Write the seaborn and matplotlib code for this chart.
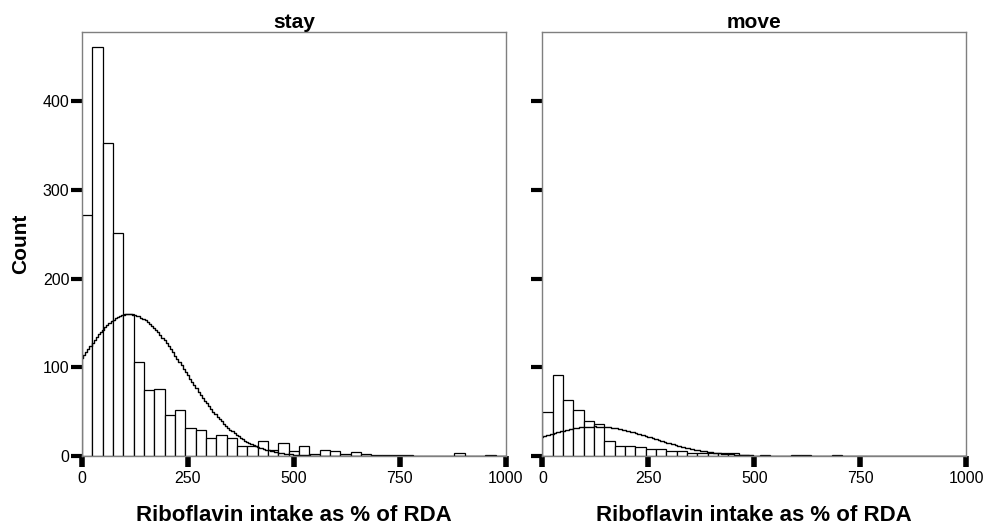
import numpy as np
import pandas as pd
import matplotlib
matplotlib.use("Agg")
import matplotlib.pyplot as plt
import seaborn as sns

# ---- data ----
panels = ["stay", "move"]
bin_width = 1000 / 41
stay_counts = [272, 461, 353, 252, 160, 106, 75, 76, 46, 52, 32, 30, 20, 24, 20,
               12, 12, 17, 7, 15, 6, 12, 2, 7, 6, 2, 5, 2, 1, 1, 1, 1, 0, 0, 0,
               0, 4, 0, 0, 1, 0]
move_counts = [50, 91, 63, 52, 40, 36, 17, 12, 11, 10, 8, 8, 6, 6, 4, 4, 4, 4, 4,
               1, 0, 1, 0, 0, 1, 1, 0, 0, 1, 0, 0, 0, 0, 0, 0, 0, 0, 0, 0, 0, 0]
# normal-curve parameters (mean, sd, N) as drawn by the source
stay_curve = [112, 130, 2138]
move_curve = [125, 136, 468]
x_ticks = [0, 250, 500, 750, 1000]
y_ticks = [0, 100, 200, 300, 400]
x_label = "Riboflavin intake as % of RDA"
y_label = "Count"

sns.set_style("white")
plt.rcParams["font.family"] = ["Liberation Sans", "DejaVu Sans"]
plt.rcParams["text.color"] = "black"
plt.rcParams["axes.labelcolor"] = "black"
plt.rcParams["xtick.color"] = "black"
plt.rcParams["ytick.color"] = "black"

fig = plt.figure(figsize=(9.88, 5.28), dpi=100)
ax_l = fig.add_axes([0.083, 0.136, 0.429, 0.803])
ax_r = fig.add_axes([0.549, 0.136, 0.429, 0.803], sharey=ax_l)

edges = [i * bin_width for i in range(len(stay_counts) + 1)]
centers = [(edges[i] + edges[i + 1]) / 2 for i in range(len(stay_counts))]
grid = np.arange(0, 1000.1, 5.0)

for ax, name, counts, curve in [(ax_l, "stay", stay_counts, stay_curve),
                                (ax_r, "move", move_counts, move_curve)]:
    df = pd.DataFrame({"x": centers, "count": counts})
    sns.histplot(data=df, x="x", weights="count", bins=edges, ax=ax,
                 color="white", edgecolor="black", linewidth=0.9, alpha=1)
    mu, sd, n = curve
    dens = n * bin_width * np.exp(-0.5 * ((grid - mu) / sd) ** 2) / (sd * np.sqrt(2 * np.pi))
    sns.lineplot(x=grid, y=dens, ax=ax, color="black", linewidth=1.0,
                 drawstyle="steps-mid", estimator=None)
    ax.set_xlim(0, 1000)
    ax.set_ylim(0, 478)
    ax.set_xticks(x_ticks)
    ax.set_yticks(y_ticks)
    ax.set_title(name, fontsize=15, fontweight="bold", pad=3, color="black")
    ax.set_xlabel(x_label, fontsize=16, fontweight="bold", labelpad=13)
    ax.set_ylabel("")
    for s in ax.spines.values():
        s.set_color("#7f7f7f")
        s.set_linewidth(1.0)
    ax.tick_params(axis="x", direction="out", length=8, width=4, color="black",
                   labelcolor="black", labelsize=11.5, pad=3, bottom=True)
    ax.tick_params(axis="y", direction="out", length=8, width=3, color="black",
                   labelcolor="black", labelsize=11.5, pad=1, left=True)

ax_r.tick_params(axis="y", labelleft=False)
ax_l.set_ylabel(y_label, fontsize=15, fontweight="bold", labelpad=9)

fig.savefig("out.png", dpi=100)
